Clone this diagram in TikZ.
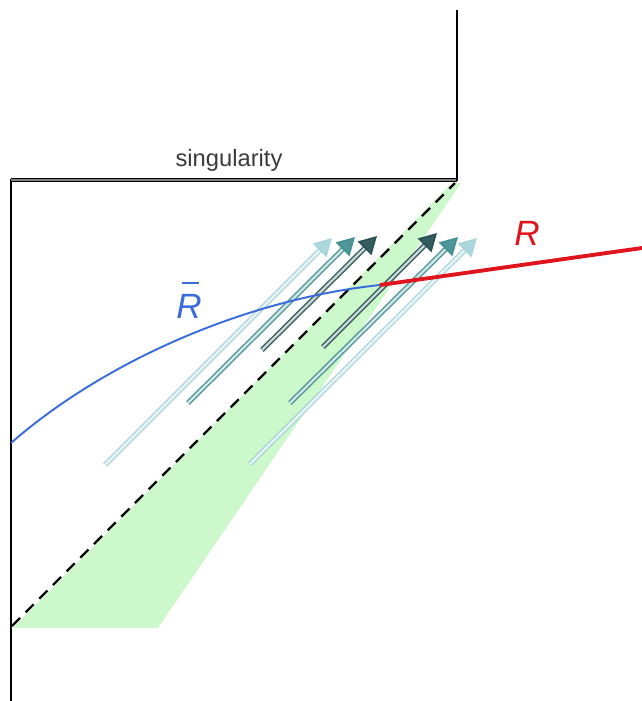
\documentclass[tikz,border=0pt]{standalone}
\usepackage{fontspec}
\setmainfont{Liberation Sans}
\usepackage{xcolor}
\definecolor{coneGreen}{HTML}{CCF8CC}
\definecolor{rayLight}{HTML}{A3D3D8}
\definecolor{rayMid}{HTML}{3B8B8E}
\definecolor{rayDark}{HTML}{1F4A4C}
\definecolor{curveBlue}{HTML}{3A6CDB}
\definecolor{curveRed}{HTML}{E0141C}
\definecolor{labelGray}{HTML}{3A3A3A}
\usetikzlibrary{arrows.meta}

\tikzset{
  ray/.style={draw=#1, line width=0.8pt, double=#1!15!white, double distance=1.3pt,
    -{Triangle[width=11pt,length=10pt,fill=#1]}},
  frame/.style={black, line width=1.3pt}
}

\begin{document}
\begin{tikzpicture}[x=0.02cm, y=-0.02cm]
  \useasboundingbox (0,0) rectangle (642,701);
  % cone and horizon
  \fill[coneGreen] (13,628) -- (158,628) -- (461,183) -- (452,183) -- cycle;
  \coordinate (hzA) at (12,626);
  \coordinate (hzB) at (455,183);
  \draw[black, line width=1.4pt, dash pattern=on 6.5pt off 4.5pt] (hzA) -- (hzB);
  % walls
  \draw[frame] (11,701) -- (11,179);
  \draw[draw=black, line width=0.5pt, double=gray, double distance=1.2pt] (11,180) -- (457,180);
  \draw[frame] (457,181) -- (457,10);
  \node[labelGray, font=\fontsize{13.5}{15}\selectfont] (sing) at (229,160) {singularity};
  % rays, left bundle
  \draw[ray=rayLight, opacity=0.9] (105,465) -- (332,238);
  \draw[ray=rayMid, opacity=0.9] (188,403) -- (355,237);
  \draw[ray=rayDark, opacity=0.9] (262,350) -- (377,236);
  % rays, right bundle
  \draw[ray=rayDark, opacity=0.9] (323,347) -- (437,233);
  \draw[ray=rayMid, opacity=0.9] (290,403) -- (458,237);
  \draw[ray=rayLight, opacity=0.9] (250,464) -- (477,238);
  % curves
  \coordinate (join) at (380,285);
  \draw[curveBlue, line width=1.1pt] (11,443) .. controls (100,365) and (240,300) .. (join);
  \draw[curveRed, line width=2.2pt] (join) -- (642,248);
  \node[curveBlue, font=\fontsize{20}{22}\selectfont\itshape] (rbar) at (189,306) {R};
  \draw[curveBlue, line width=1.1pt] (182,283) -- (199,283);
  \node[curveRed, font=\fontsize{20}{22}\selectfont\itshape] (rlab) at (527,233) {R};
\end{tikzpicture}
\end{document}
